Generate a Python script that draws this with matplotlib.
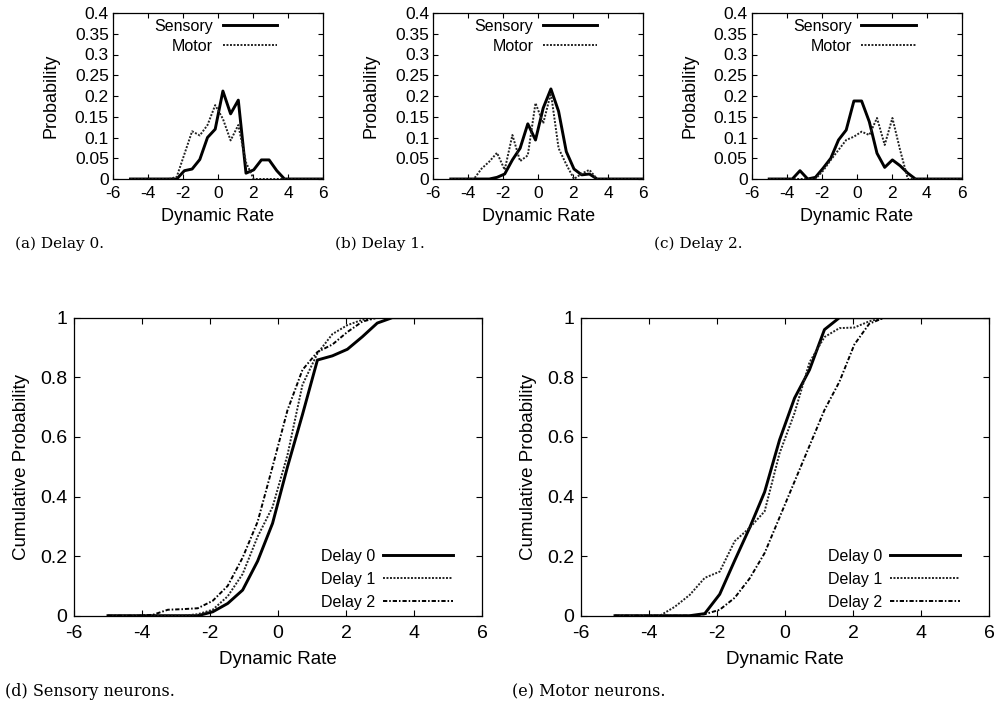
import matplotlib
matplotlib.use("Agg")
import matplotlib.pyplot as plt
from matplotlib.ticker import FormatStrFormatter

plt.rcParams['font.family'] = ['Liberation Sans', 'DejaVu Sans']
plt.rcParams['axes.unicode_minus'] = False

# bin centres of the dynamic rate histogram
rate = [-5.0, -4.56, -4.12, -3.68, -3.24, -2.8, -2.36, -1.92, -1.48, -1.04, -0.6, -0.16, 0.28,
        0.72, 1.16, 1.6, 2.04, 2.48, 2.92, 3.36, 3.8, 4.24, 4.68, 5.12, 5.56, 6.0]

# probability, (a)-(c)
sens_d0 = [0, 0, 0, 0, 0, 0, 0, 0.02, 0.024, 0.047, 0.10, 0.12, 0.212, 0.157, 0.19, 0.014,
           0.022, 0.046, 0.046, 0.02, 0, 0, 0, 0, 0, 0]
motor_d0 = [0, 0, 0, 0, 0, 0, 0.005, 0.06, 0.115, 0.105, 0.13, 0.178, 0.145, 0.093, 0.13, 0.04,
            0, 0, 0, 0, 0, 0, 0, 0, 0, 0]
sens_d1 = [0, 0, 0, 0, 0, 0, 0.004, 0.012, 0.046, 0.074, 0.133, 0.094, 0.171, 0.217, 0.163, 0.066,
           0.024, 0.01, 0.012, 0, 0, 0, 0, 0, 0, 0]
motor_d1 = [0, 0, 0, 0, 0.025, 0.042, 0.063, 0.022, 0.106, 0.043, 0.057, 0.183, 0.134, 0.207, 0.074,
            0.035, 0, 0.013, 0.022, 0, 0, 0, 0, 0, 0, 0]
sens_d2 = [0, 0, 0, 0, 0.02, 0, 0.004, 0.026, 0.05, 0.094, 0.118, 0.188, 0.188, 0.138, 0.062, 0.028,
           0.046, 0.032, 0.014, 0, 0, 0, 0, 0, 0, 0]
motor_d2 = [0, 0, 0, 0, 0, 0, 0, 0.02, 0.046, 0.07, 0.094, 0.102, 0.114, 0.106, 0.147, 0.082,
            0.147, 0.07, 0, 0, 0, 0, 0, 0, 0, 0]

# cumulative probability, (d) sensory and (e) motor
cdf_sens = [
    [0, 0, 0, 0, 0, 0, 0, 0.013, 0.041, 0.086, 0.183, 0.31, 0.5, 0.675, 0.858, 0.872, 0.894, 0.936,
     0.982, 1, 1, 1, 1, 1, 1, 1],
    [0, 0, 0, 0, 0, 0, 0.005, 0.02, 0.065, 0.14, 0.265, 0.365, 0.54, 0.775, 0.88, 0.945, 0.975,
     0.993, 1, 1, 1, 1, 1, 1, 1, 1],
    [0, 0, 0, 0.003, 0.02, 0.022, 0.025, 0.05, 0.1, 0.195, 0.315, 0.5, 0.69, 0.825, 0.885, 0.91,
     0.952, 0.987, 1, 1, 1, 1, 1, 1, 1, 1],
]
cdf_motor = [
    [0, 0, 0, 0, 0, 0, 0.007, 0.072, 0.185, 0.295, 0.415, 0.59, 0.73, 0.825, 0.96, 1, 1, 1, 1, 1,
     1, 1, 1, 1, 1, 1],
    [0, 0, 0, 0, 0.03, 0.07, 0.127, 0.148, 0.25, 0.295, 0.35, 0.545, 0.68, 0.85, 0.935, 0.965, 0.967,
     0.988, 1, 1, 1, 1, 1, 1, 1, 1],
    [0, 0, 0, 0, 0, 0, 0.005, 0.02, 0.06, 0.125, 0.21, 0.33, 0.45, 0.57, 0.69, 0.785, 0.91, 0.98,
     1, 1, 1, 1, 1, 1, 1, 1],
]
delay_labels = ['Delay 0', 'Delay 1', 'Delay 2']

top_captions = ['(a) Delay 0.', '(b) Delay 1.', '(c) Delay 2.']
bottom_captions = ['(d) Sensory neurons.', '(e) Motor neurons.']

SOLID = dict(color='black', lw=2.1, linestyle='-')
DOTTED = dict(color='#222222', lw=1.4, linestyle=(0, (1, 0.8)))
DASHDOT = dict(color='black', lw=1.4, linestyle=(0, (2.2, 1, 0.8, 1)))
styles = [SOLID, DOTTED, DASHDOT]


def style_axes(ax, tick_size, ticklen):
    ax.set_xlim(-6, 6)
    ax.set_xticks(range(-6, 7, 2))
    ax.tick_params(direction='in', top=True, right=True, length=ticklen, width=0.8,
                   labelsize=tick_size)
    ax.yaxis.set_major_formatter(FormatStrFormatter('%g'))
    for s in ax.spines.values():
        s.set_linewidth(0.9)


fig = plt.figure(figsize=(9.97, 7.03), dpi=100)
W, H = 997.0, 703.0

top_lefts = [113, 433.3, 751.7]
pdfs = [(sens_d0, motor_d0), (sens_d1, motor_d1), (sens_d2, motor_d2)]
for left, (s, m), cap in zip(top_lefts, pdfs, top_captions):
    ax = fig.add_axes([left / W, 1 - 179 / H, 210 / W, 166 / H])
    ax.plot(rate, s, label='Sensory', **SOLID)
    ax.plot(rate, m, label='Motor', **DOTTED)
    style_axes(ax, 12.5, 3.5)
    ax.set_ylim(0, 0.4)
    ax.set_yticks([0, 0.05, 0.1, 0.15, 0.2, 0.25, 0.3, 0.35, 0.4])
    ax.tick_params(axis='y', pad=3)
    ax.tick_params(axis='x', pad=5)
    ax.set_xlabel('Dynamic Rate', fontsize=13, labelpad=5)
    ax.set_ylabel('Probability', fontsize=13, labelpad=11)
    ax.legend(loc='upper right', bbox_to_anchor=(0.781, 0.965), frameon=False, markerfirst=False,
              fontsize=11.5, handlelength=3.4, handletextpad=0.6, labelspacing=0.3,
              borderpad=0, borderaxespad=0)
    fig.text((left - 98) / W, 1 - 244 / H, cap, family='DejaVu Serif', fontsize=11,
             va='center', ha='left')

bottom_lefts = [74, 581]
for left, cdfs, cap in zip(bottom_lefts, [cdf_sens, cdf_motor], bottom_captions):
    ax = fig.add_axes([left / W, 1 - 615.7 / H, 408 / W, 298 / H])
    for cdf, lab, st in zip(cdfs, delay_labels, styles):
        ax.plot(rate, cdf, label=lab, **st)
    style_axes(ax, 14, 4.5)
    ax.set_ylim(0, 1)
    ax.set_yticks([0, 0.2, 0.4, 0.6, 0.8, 1])
    ax.tick_params(axis='y', pad=5)
    ax.tick_params(axis='x', pad=7)
    ax.set_xlabel('Dynamic Rate', fontsize=13.5, labelpad=6)
    ax.set_ylabel('Cumulative Probability', fontsize=13.5, labelpad=7)
    ax.legend(loc='lower right', bbox_to_anchor=(0.929, 0.02), frameon=False, markerfirst=False,
              fontsize=11.5, handlelength=4.4, handletextpad=0.5, labelspacing=0.5,
              borderpad=0, borderaxespad=0)
    fig.text((left - 69) / W, 1 - 692 / H, cap, family='DejaVu Serif', fontsize=11.5,
             va='center', ha='left')

fig.savefig('out.png', dpi=100)
